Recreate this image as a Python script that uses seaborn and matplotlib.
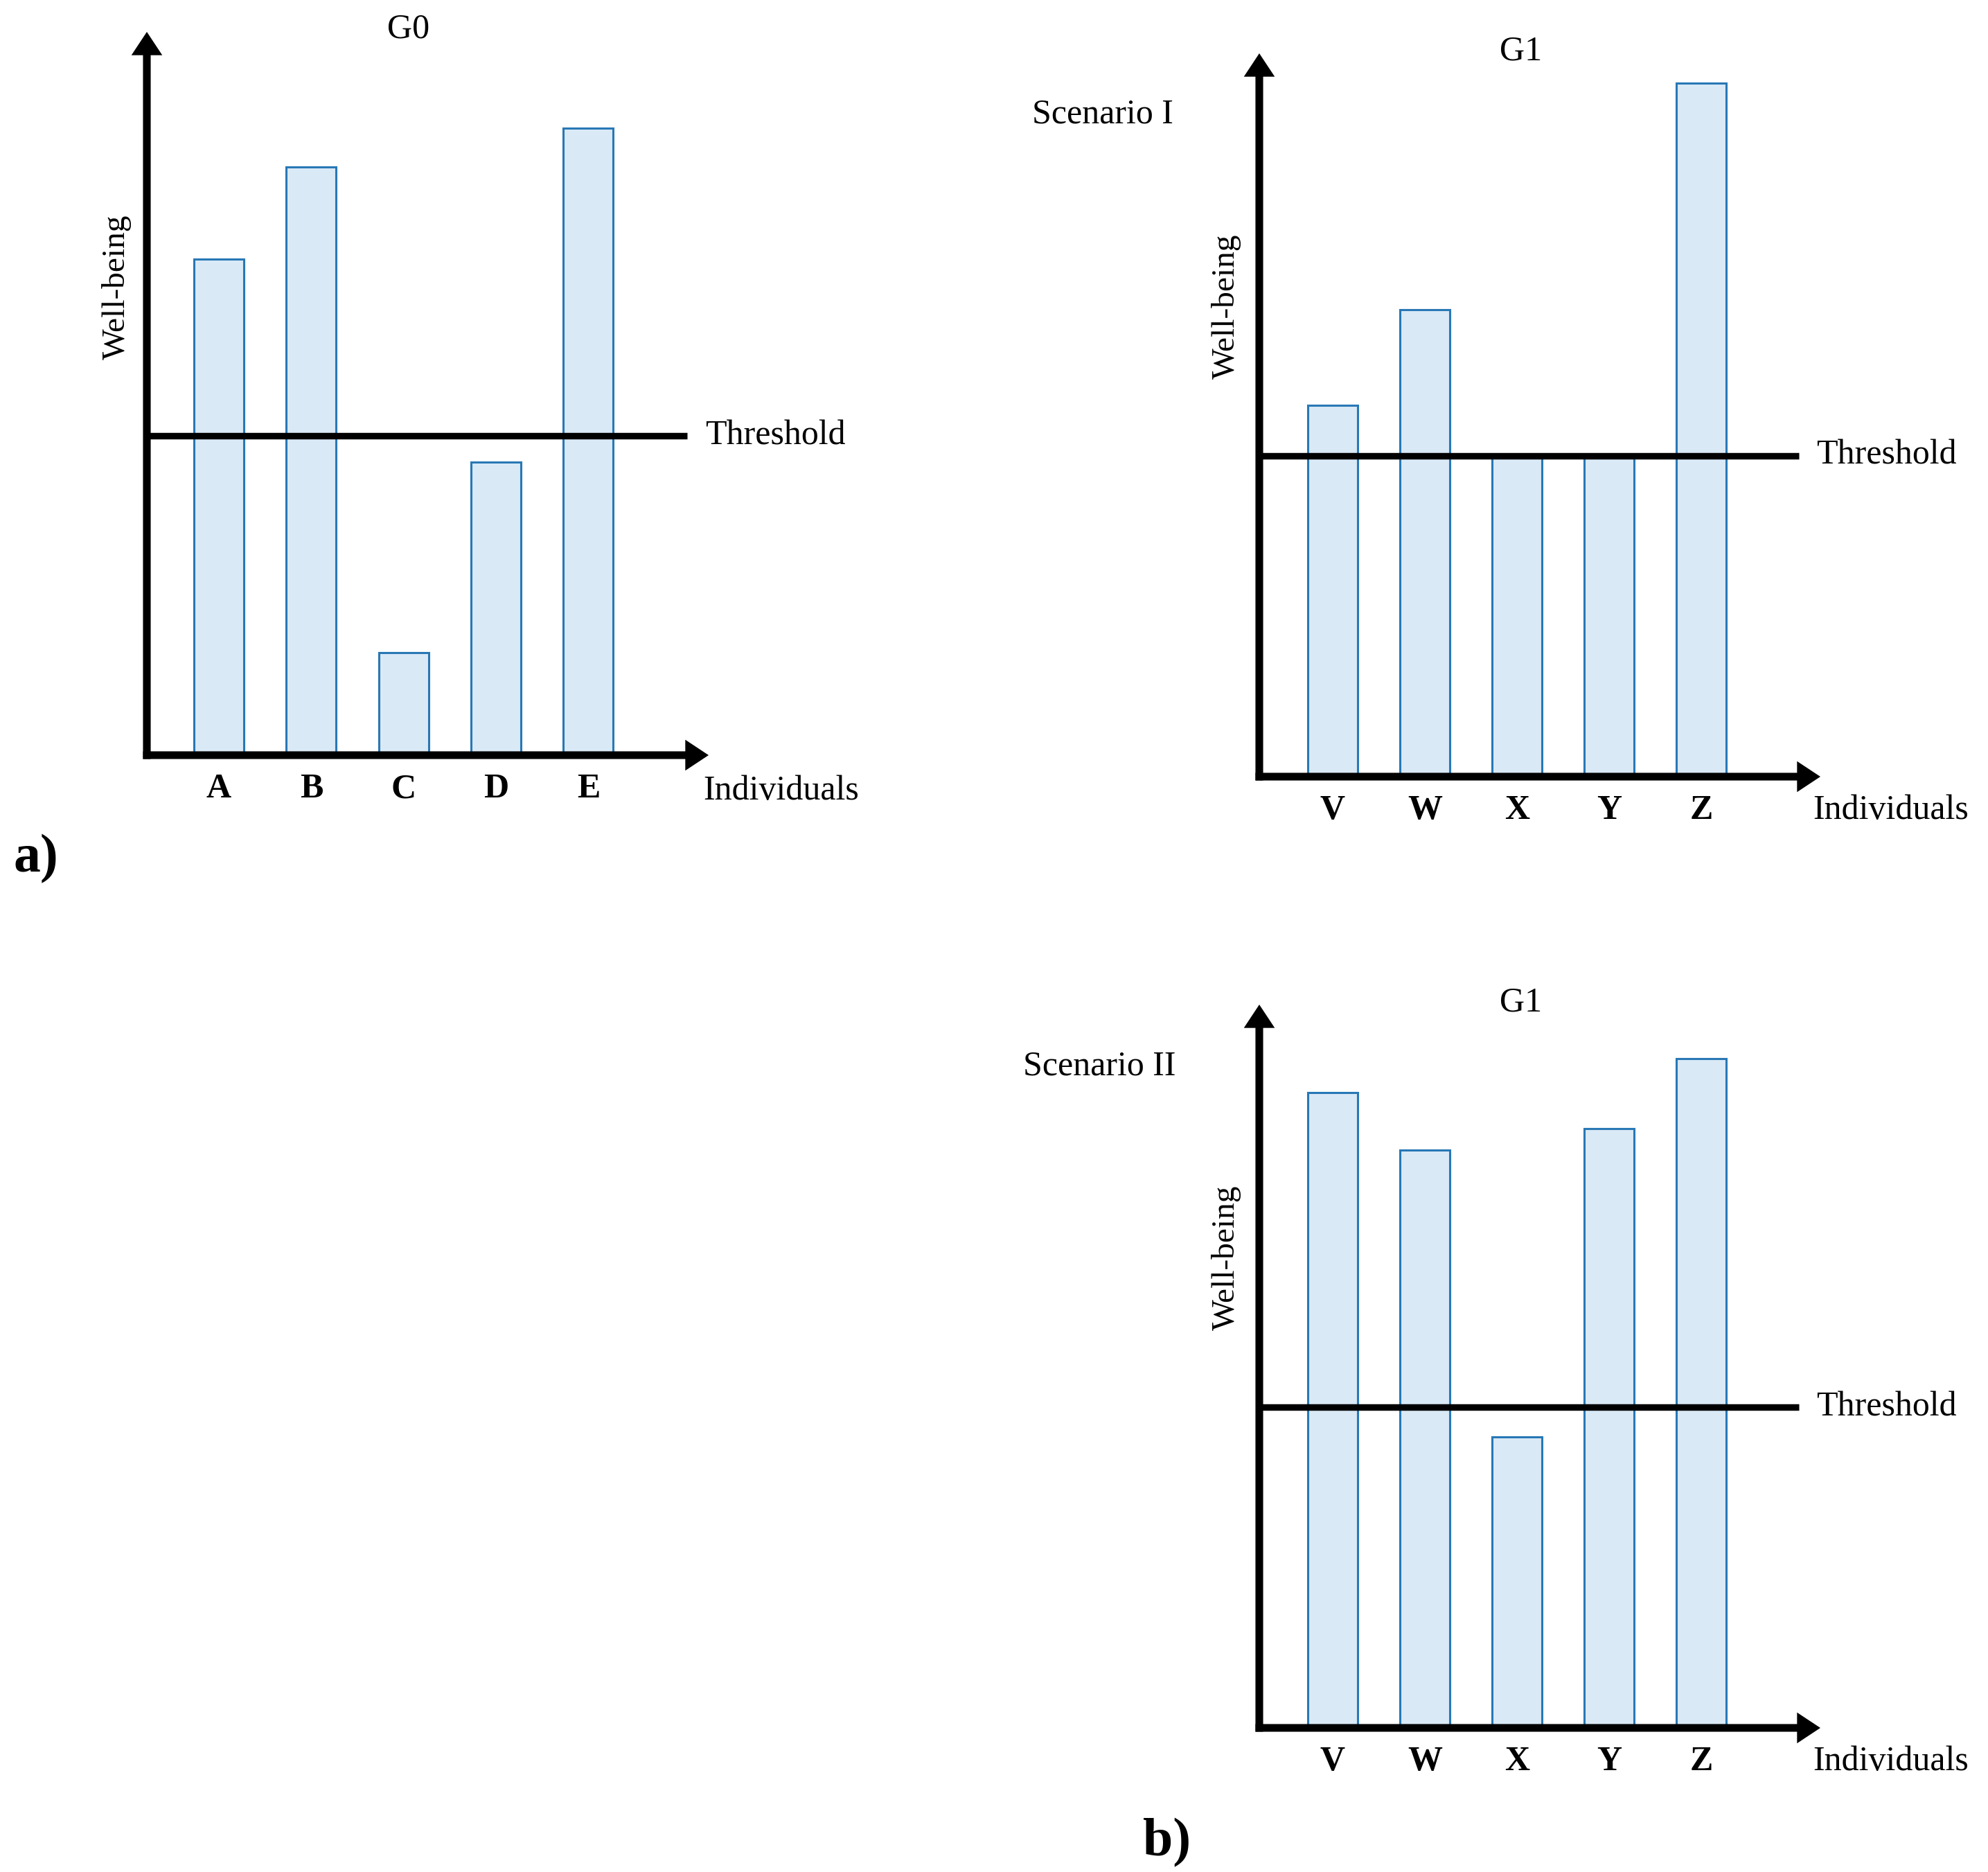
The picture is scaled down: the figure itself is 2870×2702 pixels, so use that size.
import matplotlib
matplotlib.use("Agg")
import matplotlib.pyplot as plt
import seaborn as sns

sns.set_theme(style="white")
plt.rcParams['font.family'] = ['Liberation Serif', 'DejaVu Serif']
plt.rcParams['text.color'] = 'black'
plt.rcParams['xtick.color'] = 'black'

# valores (bienestar en unidades arbitrarias)
labels_g0 = ['A', 'B', 'C', 'D', 'E']
wellbeing_g0 = [716, 849, 148, 423, 905]
threshold_g0 = 461

labels_g1 = ['V', 'W', 'X', 'Y', 'Z']
wellbeing_g1_s1 = [536, 674, 460, 460, 1001]
threshold_g1_s1 = 463
wellbeing_g1_s2 = [917, 834, 420, 865, 966]
threshold_g1_s2 = 463

FILL = '#DAE9F6'
EDGE = '#2878B5'

W, H = 2870.0, 2702.0
AXIS_LW = 8.0
THR_LW = 6.8

fig = plt.figure(figsize=(W / 100, H / 100), dpi=100)


def fx(x):
    return x / W


def fy(y):
    return 1 - y / H


def panel(left, right, base, top, c0, step, cats, vals, thr, thr_end, ymax):
    ax = fig.add_axes([fx(left), fy(base), (right - left) / W, (base - top) / H])
    sns.barplot(x=cats, y=vals, ax=ax, color=FILL, edgecolor=EDGE,
                linewidth=2.2, width=0.54, saturation=1, zorder=2)
    x0 = (left - c0) / step
    x1 = (right - c0) / step
    ax.set_xlim(x0, x1)
    ax.set_ylim(0, ymax)
    for s in ax.spines.values():
        s.set_visible(False)
    ax.set_yticks([])
    ax.set_xlabel('')
    ax.set_ylabel('')
    ax.tick_params(axis='x', length=0, pad=19, labelcolor='black')
    for t in ax.get_xticklabels():
        t.set_fontweight('bold')
        t.set_fontsize(36)

    # linea de umbral
    ax.plot([x0, (thr_end - c0) / step], [thr, thr], color='black',
            lw=THR_LW, zorder=3, solid_capstyle='butt')

    # ejes con flecha
    dx = 5.5 / (right - left)
    dy = 5.5 / (base - top)
    arrow = dict(arrowstyle='-|>,head_length=0.65,head_width=0.43', lw=AXIS_LW,
                 color='black', mutation_scale=20, shrinkA=0, shrinkB=0,
                 capstyle='butt', joinstyle='miter')
    ax.annotate('', xy=(1, 0), xytext=(-dx, 0), xycoords='axes fraction',
                arrowprops=arrow, annotation_clip=False, zorder=4)
    ax.annotate('', xy=(0, 1), xytext=(0, -dy), xycoords='axes fraction',
                arrowprops=arrow, annotation_clip=False, zorder=4)
    return ax


# a) G0
panel(212, 1023, 1090, 46, 316, 133.35, labels_g0, wellbeing_g0,
      threshold_g0, 992, 1044)
# b) G1, escenario I
panel(1818, 2628, 1121, 77, 1923.8, 133.1, labels_g1, wellbeing_g1_s1,
      threshold_g1_s1, 2597, 1044)
# b) G1, escenario II
panel(1818, 2628, 2494, 1450, 1923.8, 133.1, labels_g1, wellbeing_g1_s2,
      threshold_g1_s2, 2597, 1044)

fs = 36


def txt(x, y, s, va='center', **kw):
    fig.text(fx(x), fy(y), s, va=va, **kw)


# panel a
txt(590, 42, 'G0', ha='center', fontsize=fs)
txt(168, 414, 'Well-being', ha='center', rotation=90, fontsize=34)
txt(1018, 641, 'Threshold', ha='left', va='baseline', fontsize=fs)
txt(1015, 1154, 'Individuals', ha='left', va='baseline', fontsize=fs)
txt(20, 1258, 'a)', ha='left', va='baseline', fontsize=56, fontweight='bold')

# panel b, escenario I
txt(2196, 74, 'G1', ha='center', fontsize=fs)
txt(1490, 178, 'Scenario I', ha='left', va='baseline', fontsize=fs)
txt(1770, 442, 'Well-being', ha='center', rotation=90, fontsize=34)
txt(2622, 670, 'Threshold', ha='left', va='baseline', fontsize=fs)
txt(2617, 1182, 'Individuals', ha='left', va='baseline', fontsize=fs)

# panel b, escenario II
txt(2196, 1447, 'G1', ha='center', fontsize=fs)
txt(1477, 1551, 'Scenario II', ha='left', va='baseline', fontsize=fs)
txt(1770, 1815, 'Well-being', ha='center', rotation=90, fontsize=34)
txt(2622, 2043, 'Threshold', ha='left', va='baseline', fontsize=fs)
txt(2617, 2555, 'Individuals', ha='left', va='baseline', fontsize=fs)
txt(1650, 2678, 'b)', ha='left', va='baseline', fontsize=56, fontweight='bold')

fig.savefig('out.png', dpi=100, facecolor='white')
